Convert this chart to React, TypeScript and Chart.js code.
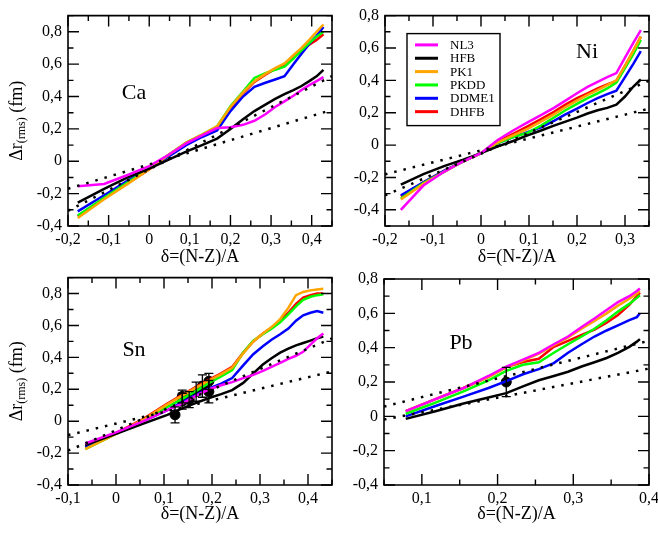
import React, { useEffect, useRef } from "react";
import { Chart, registerables } from "chart.js";

Chart.register(...registerables);

const FONT = '"Liberation Serif", "Times New Roman", Times, serif';

const seriesNames = ["NL3", "HFB", "PK1", "PKDD", "DDME1", "DHFB"];
const seriesColors = ["#ff00ff", "#000000", "#ffa500", "#00ff00", "#0000ff", "#ff0000"];
const xTitle = "δ=(N-Z)/A";

// ---------- Ca ----------
const caDelta = [-0.176, -0.111, -0.053, 0, 0.048, 0.091, 0.13, 0.167, 0.2, 0.231, 0.259, 0.286, 0.31, 0.333, 0.355, 0.375, 0.394, 0.412, 0.429];
const caNL3 = [-0.155, -0.14, -0.085, -0.03, 0.04, 0.11, 0.16, 0.205, 0.21, 0.225, 0.25, 0.29, 0.335, 0.37, 0.405, 0.44, 0.47, 0.495, 0.52];
const caHFB = [-0.255, -0.17, -0.1, -0.045, 0.01, 0.06, 0.1, 0.14, 0.2, 0.26, 0.31, 0.35, 0.385, 0.415, 0.44, 0.465, 0.495, 0.525, 0.565];
const caPK1 = [-0.35, -0.235, -0.14, -0.05, 0.04, 0.115, 0.165, 0.215, 0.335, 0.425, 0.495, 0.54, 0.575, 0.605, 0.655, 0.7, 0.75, 0.8, 0.845];
const caPKDD = [-0.335, -0.225, -0.13, -0.045, 0.04, 0.115, 0.165, 0.215, 0.34, 0.43, 0.515, 0.545, 0.565, 0.585, 0.635, 0.685, 0.73, 0.77, 0.8];
const caDDME1 = [-0.31, -0.21, -0.12, -0.045, 0.03, 0.1, 0.15, 0.19, 0.31, 0.4, 0.46, 0.485, 0.505, 0.525, 0.6, 0.665, 0.725, 0.775, 0.83];
const caDHFB = [-0.34, -0.23, -0.135, -0.05, 0.04, 0.11, 0.16, 0.205, 0.33, 0.42, 0.49, 0.535, 0.57, 0.6, 0.645, 0.685, 0.72, 0.75, 0.785];
const caBandX = [-0.2, 0.45];
const caBandSteep = [-0.306, 0.526];
const caBandFlat = [-0.17, 0.3175];
const caXTicks = [-0.2, -0.1, 0, 0.1, 0.2, 0.3, 0.4];
const caYTicks = [-0.4, -0.2, 0, 0.2, 0.4, 0.6, 0.8];

// ---------- Ni ----------
const niDelta = [-0.167, -0.12, -0.077, -0.037, 0, 0.034, 0.067, 0.097, 0.125, 0.152, 0.176, 0.2, 0.222, 0.243, 0.263, 0.282, 0.3, 0.317, 0.333];
const niNL3 = [-0.4, -0.25, -0.165, -0.1, -0.05, 0.03, 0.09, 0.14, 0.185, 0.23, 0.275, 0.32, 0.36, 0.39, 0.42, 0.445, 0.54, 0.63, 0.71];
const niHFB = [-0.245, -0.18, -0.13, -0.09, -0.05, -0.01, 0.025, 0.06, 0.09, 0.12, 0.145, 0.17, 0.195, 0.215, 0.23, 0.25, 0.3, 0.36, 0.405];
const niPK1 = [-0.336, -0.24, -0.165, -0.1, -0.05, 0.015, 0.06, 0.1, 0.145, 0.19, 0.235, 0.275, 0.31, 0.34, 0.37, 0.4, 0.49, 0.58, 0.67];
const niPKDD = [-0.33, -0.235, -0.165, -0.1, -0.05, 0.01, 0.05, 0.075, 0.12, 0.17, 0.215, 0.255, 0.29, 0.32, 0.35, 0.386, 0.475, 0.56, 0.65];
const niDDME1 = [-0.31, -0.23, -0.16, -0.1, -0.05, 0.01, 0.05, 0.08, 0.11, 0.15, 0.19, 0.225, 0.26, 0.29, 0.315, 0.336, 0.42, 0.5, 0.58];
const niDHFB = [-0.316, -0.23, -0.16, -0.1, -0.05, 0.02, 0.07, 0.115, 0.16, 0.205, 0.25, 0.29, 0.32, 0.35, 0.375, 0.396, 0.49, 0.58, 0.67];
const niBandX = [-0.2, 0.35];
const niBandSteep = [-0.311, 0.3985];
const niBandFlat = [-0.1804, 0.225];
const niXTicks = [-0.2, -0.1, 0, 0.1, 0.2, 0.3];
const niYTicks = [-0.4, -0.2, 0, 0.2, 0.4, 0.6, 0.8];

// ---------- Sn ----------
const snDelta = [-0.064, 0, 0.057, 0.107, 0.138, 0.167, 0.194, 0.219, 0.242, 0.265, 0.286, 0.306, 0.324, 0.342, 0.359, 0.375, 0.39, 0.405, 0.419, 0.432];
const snNL3 = [-0.14, -0.07, 0.0, 0.07, 0.11, 0.16, 0.2, 0.225, 0.245, 0.27, 0.29, 0.315, 0.34, 0.365, 0.39, 0.41, 0.435, 0.48, 0.52, 0.55];
const snHFB = [-0.15, -0.08, -0.015, 0.04, 0.08, 0.115, 0.145, 0.17, 0.195, 0.24, 0.3, 0.355, 0.395, 0.43, 0.455, 0.475, 0.49, 0.505, 0.52, 0.53];
const snPK1 = [-0.175, -0.08, 0.01, 0.105, 0.16, 0.21, 0.255, 0.295, 0.335, 0.425, 0.5, 0.55, 0.59, 0.64, 0.71, 0.79, 0.81, 0.82, 0.826, 0.83];
const snPKDD = [-0.175, -0.08, 0.005, 0.09, 0.14, 0.19, 0.24, 0.28, 0.32, 0.43, 0.505, 0.545, 0.58, 0.62, 0.67, 0.72, 0.76, 0.78, 0.79, 0.795];
const snDDME1 = [-0.16, -0.075, 0.0, 0.07, 0.12, 0.165, 0.205, 0.235, 0.27, 0.35, 0.42, 0.47, 0.51, 0.545, 0.58, 0.63, 0.664, 0.68, 0.69, 0.68];
const snDHFB = [-0.165, -0.075, 0.015, 0.11, 0.165, 0.215, 0.26, 0.3, 0.34, 0.43, 0.5, 0.55, 0.585, 0.63, 0.68, 0.735, 0.775, 0.79, 0.8, 0.8];
const snBandX = [-0.1, 0.45];
const snBandSteep = [-0.185, 0.519];
const snBandFlat = [-0.0876, 0.312];
const snExpDelta = [0.123, 0.138, 0.138, 0.1525, 0.167, 0.18, 0.1935, 0.1935];
const snExpValue = [0.04, 0.155, 0.125, 0.135, 0.185, 0.22, 0.25, 0.185];
const snExpError = [0.05, 0.04, 0.05, 0.05, 0.06, 0.07, 0.05, 0.07];
const snXTicks = [-0.1, 0, 0.1, 0.2, 0.3, 0.4];
const snYTicks = [-0.4, -0.2, 0, 0.2, 0.4, 0.6, 0.8];

// ---------- Pb ----------
const pbDelta = [0.0787, 0.118, 0.155, 0.188, 0.2115, 0.2336, 0.2545, 0.2743, 0.2931, 0.311, 0.328, 0.344, 0.359, 0.374, 0.384, 0.388];
const pbNL3 = [0.03, 0.1, 0.165, 0.235, 0.29, 0.33, 0.37, 0.42, 0.465, 0.52, 0.57, 0.62, 0.665, 0.7, 0.73, 0.745];
const pbHFB = [-0.015, 0.03, 0.075, 0.11, 0.135, 0.175, 0.21, 0.235, 0.26, 0.29, 0.315, 0.34, 0.37, 0.405, 0.435, 0.45];
const pbPK1 = [0.03, 0.1, 0.165, 0.23, 0.285, 0.325, 0.365, 0.415, 0.46, 0.51, 0.555, 0.6, 0.645, 0.685, 0.715, 0.73];
const pbPKDD = [0.015, 0.08, 0.145, 0.21, 0.265, 0.3, 0.315, 0.37, 0.42, 0.465, 0.51, 0.56, 0.61, 0.655, 0.69, 0.705];
const pbDDME1 = [0.0, 0.06, 0.115, 0.165, 0.205, 0.245, 0.275, 0.31, 0.37, 0.42, 0.465, 0.5, 0.53, 0.56, 0.578, 0.6];
const pbDHFB = [0.03, 0.1, 0.165, 0.23, 0.287, 0.316, 0.335, 0.405, 0.44, 0.475, 0.505, 0.545, 0.59, 0.65, 0.7, 0.72];
const pbBandX = [0.05, 0.4];
const pbBandUpper = [0.057, 0.44];
const pbBandLower = [-0.019, 0.278];
const pbExpDelta = [0.2115];
const pbExpValue = [0.2];
const pbExpError = [0.085];
const pbXTicks = [0.1, 0.2, 0.3, 0.4];
const pbYTicks = [-0.4, -0.2, 0, 0.2, 0.4, 0.6, 0.8];

type Panel = {
  name: string;
  delta: number[];
  series: number[][];
  bandX: number[];
  bands: number[][];
  exp?: { x: number[]; y: number[]; err: number[] };
  xMin: number; xMax: number; yMin: number; yMax: number;
  xTicks: number[]; yTicks: number[];
  box: { left: number; top: number; w: number; h: number };
  padTop: number; padRight: number; yWidth: number; xHeight: number; titlePad: number;
  labelDx: number; labelDy: number;
  yTitle: boolean; legend: boolean;
};

const panels: Panel[] = [
  {
    name: "Ca", delta: caDelta, series: [caNL3, caHFB, caPK1, caPKDD, caDDME1, caDHFB],
    bandX: caBandX, bands: [caBandSteep, caBandFlat],
    xMin: -0.2, xMax: 0.45, yMin: -0.4, yMax: 0.9, xTicks: caXTicks, yTicks: caYTicks,
    box: { left: 0, top: 0, w: 340, h: 270 }, padTop: 10, padRight: 8, yWidth: 68, xHeight: 44, titlePad: 2.2,
    labelDx: 66, labelDy: 78, yTitle: true, legend: false,
  },
  {
    name: "Ni", delta: niDelta, series: [niNL3, niHFB, niPK1, niPKDD, niDDME1, niDHFB],
    bandX: niBandX, bands: [niBandSteep, niBandFlat],
    xMin: -0.2, xMax: 0.35, yMin: -0.5, yMax: 0.8, xTicks: niXTicks, yTicks: niYTicks,
    box: { left: 336, top: 0, w: 330, h: 270 }, padTop: 10, padRight: 17, yWidth: 49, xHeight: 44, titlePad: 2.2,
    labelDx: 202, labelDy: 37, yTitle: false, legend: true,
  },
  {
    name: "Sn", delta: snDelta, series: [snNL3, snHFB, snPK1, snPKDD, snDDME1, snDHFB],
    bandX: snBandX, bands: [snBandSteep, snBandFlat],
    exp: { x: snExpDelta, y: snExpValue, err: snExpError },
    xMin: -0.1, xMax: 0.45, yMin: -0.4, yMax: 0.9, xTicks: snXTicks, yTicks: snYTicks,
    box: { left: 0, top: 262, w: 340, h: 271 }, padTop: 8, padRight: 8, yWidth: 68, xHeight: 48, titlePad: 8.2,
    labelDx: 66, labelDy: 73, yTitle: true, legend: false,
  },
  {
    name: "Pb", delta: pbDelta, series: [pbNL3, pbHFB, pbPK1, pbPKDD, pbDDME1, pbDHFB],
    bandX: pbBandX, bands: [pbBandUpper, pbBandLower],
    exp: { x: pbExpDelta, y: pbExpValue, err: pbExpError },
    xMin: 0.05, xMax: 0.4, yMin: -0.4, yMax: 0.8, xTicks: pbXTicks, yTicks: pbYTicks,
    box: { left: 336, top: 262, w: 330, h: 271 }, padTop: 17, padRight: 17, yWidth: 48, xHeight: 48, titlePad: 8.2,
    labelDx: 77, labelDy: 64, yTitle: false, legend: false,
  },
];

const fmt = (v: number) => (Math.abs(v) < 1e-9 ? "0" : v.toFixed(1).replace(".", ","));

function minorValues(major: number[], min: number, max: number): number[] {
  const step = (major[1] - major[0]) / 2;
  const out: number[] = [];
  const start = Math.ceil((min - 1e-9) / step);
  const end = Math.floor((max + 1e-9) / step);
  for (let k = start; k <= end; k++) {
    const v = k * step;
    if (!major.some((m) => Math.abs(m - v) < 1e-6)) out.push(v);
  }
  return out;
}

function makePlugin(p: Panel) {
  return {
    id: "frame" + p.name,
    afterDatasetsDraw(chart: any) {
      const { ctx, scales } = chart;
      const x = scales.x;
      const y = scales.y;
      // error bars
      chart.data.datasets.forEach((ds: any) => {
        if (!ds.errors) return;
        ctx.save();
        ctx.strokeStyle = "#000";
        ctx.lineWidth = 1.3;
        ds.data.forEach((pt: any, i: number) => {
          const e = ds.errors[i];
          const px = x.getPixelForValue(pt.x);
          const y1 = y.getPixelForValue(pt.y - e);
          const y2 = y.getPixelForValue(pt.y + e);
          ctx.beginPath();
          ctx.moveTo(px, y1); ctx.lineTo(px, y2);
          ctx.moveTo(px - 4.5, y1); ctx.lineTo(px + 4.5, y1);
          ctx.moveTo(px - 4.5, y2); ctx.lineTo(px + 4.5, y2);
          ctx.stroke();
        });
        ctx.restore();
      });
    },
    afterDraw(chart: any) {
      const { ctx, chartArea: a, scales } = chart;
      const x = scales.x;
      const y = scales.y;
      ctx.save();
      ctx.strokeStyle = "#000";
      ctx.lineWidth = 1.6;
      ctx.beginPath();
      ctx.rect(a.left, a.top, a.right - a.left, a.bottom - a.top);
      ctx.stroke();
      ctx.lineWidth = 1.4;
      ctx.beginPath();
      const xt = (vals: number[], len: number) => vals.forEach((v) => {
        const px = x.getPixelForValue(v);
        ctx.moveTo(px, a.bottom); ctx.lineTo(px, a.bottom - len);
        ctx.moveTo(px, a.top); ctx.lineTo(px, a.top + len);
      });
      const yt = (vals: number[], len: number) => vals.forEach((v) => {
        const py = y.getPixelForValue(v);
        ctx.moveTo(a.left, py); ctx.lineTo(a.left + len, py);
        ctx.moveTo(a.right, py); ctx.lineTo(a.right - len, py);
      });
      xt(p.xTicks, 11);
      xt(minorValues(p.xTicks, p.xMin, p.xMax), 5.5);
      yt(p.yTicks, 11);
      yt(minorValues(p.yTicks, p.yMin, p.yMax), 5.5);
      ctx.stroke();

      // panel label
      ctx.fillStyle = "#000";
      ctx.font = `22px ${FONT}`;
      ctx.textAlign = "center";
      ctx.textBaseline = "middle";
      ctx.fillText(p.name, a.left + p.labelDx, a.top + p.labelDy);

      // y title with subscript
      if (p.yTitle) {
        const cx = 15.5;
        const cy = (a.top + a.bottom) / 2;
        ctx.save();
        ctx.translate(cx, cy);
        ctx.rotate(-Math.PI / 2);
        ctx.textAlign = "left";
        ctx.textBaseline = "alphabetic";
        const big = `18px ${FONT}`;
        const small = `12px ${FONT}`;
        const t1 = "Δr";
        const t2 = "(rms)";
        const t3 = " (fm)";
        ctx.font = big;
        const w1 = ctx.measureText(t1).width;
        const w3 = ctx.measureText(t3).width;
        ctx.font = small;
        const w2 = ctx.measureText(t2).width;
        let sx = -(w1 + w2 + w3) / 2;
        ctx.font = big;
        ctx.fillText(t1, sx, 6);
        sx += w1;
        ctx.font = small;
        ctx.fillText(t2, sx, 9.5);
        sx += w2;
        ctx.font = big;
        ctx.fillText(t3, sx, 6);
        ctx.restore();
      }

      // legend
      if (p.legend) {
        const lx = a.left + 22;
        const ly = a.top + 18;
        ctx.lineWidth = 1.4;
        ctx.strokeStyle = "#000";
        ctx.strokeRect(lx, ly, 93, 92);
        ctx.font = `13px ${FONT}`;
        ctx.textAlign = "left";
        ctx.textBaseline = "middle";
        seriesNames.forEach((nm, i) => {
          const ry = a.top + 29.3 + i * 13.35;
          ctx.strokeStyle = seriesColors[i];
          ctx.lineWidth = 3;
          ctx.beginPath();
          ctx.moveTo(a.left + 30, ry);
          ctx.lineTo(a.left + 53, ry);
          ctx.stroke();
          ctx.fillStyle = "#000";
          ctx.fillText(nm, a.left + 65, ry + 0.5);
        });
      }
      ctx.restore();
    },
  };
}

function buildChart(canvas: HTMLCanvasElement, p: Panel) {
  const datasets: any[] = [];
  p.bands.forEach((vals) => {
    datasets.push({
      label: "fit",
      data: p.bandX.map((xv, i) => ({ x: xv, y: vals[i] })),
      borderColor: "#000",
      borderWidth: 2.5,
      borderDash: [2.5, 7],
      borderCapStyle: "butt",
      pointRadius: 0,
      fill: false,
      tension: 0,
    });
  });
  p.series.forEach((vals, k) => {
    datasets.push({
      label: seriesNames[k],
      data: p.delta.map((xv, i) => ({ x: xv, y: vals[i] })),
      borderColor: seriesColors[k],
      borderWidth: 2.5,
      pointRadius: 0,
      fill: false,
      tension: 0,
    });
  });
  if (p.exp) {
    const e = p.exp;
    datasets.push({
      label: "exp",
      data: e.x.map((xv, i) => ({ x: xv, y: e.y[i] })),
      showLine: false,
      pointRadius: 5,
      pointBackgroundColor: "#000",
      pointBorderColor: "#000",
      borderColor: "#000",
      errors: e.err,
    });
  }
  const tickFont = { family: FONT, size: 16 };
  return new Chart(canvas, {
    type: "line",
    data: { datasets },
    plugins: [makePlugin(p)],
    options: {
      responsive: false,
      animation: false,
      devicePixelRatio: 1,
      events: [],
      layout: { padding: { top: p.padTop, right: p.padRight, left: 0, bottom: 0 } },
      plugins: { legend: { display: false }, tooltip: { enabled: false } },
      scales: {
        x: {
          type: "linear",
          min: p.xMin,
          max: p.xMax,
          afterBuildTicks: (s: any) => { s.ticks = p.xTicks.map((v) => ({ value: v })); },
          afterFit: (s: any) => { s.height = p.xHeight; },
          grid: { display: false, drawTicks: false },
          border: { display: false },
          ticks: { font: tickFont, color: "#000", padding: 4.5, maxRotation: 0, autoSkip: false, callback: (v: any) => fmt(Number(v)) },
          title: { display: true, text: xTitle, font: { family: FONT, size: 18 }, color: "#000", padding: { top: 0, bottom: p.titlePad } },
        },
        y: {
          type: "linear",
          min: p.yMin,
          max: p.yMax,
          afterBuildTicks: (s: any) => { s.ticks = p.yTicks.map((v) => ({ value: v })); },
          afterFit: (s: any) => { s.width = p.yWidth; },
          grid: { display: false, drawTicks: false },
          border: { display: false },
          ticks: { font: tickFont, color: "#000", padding: 6, autoSkip: false, callback: (v: any) => fmt(Number(v)) },
        },
      },
    } as any,
  });
}

export default function App() {
  const refs = useRef<(HTMLCanvasElement | null)[]>([]);
  useEffect(() => {
    const charts = panels.map((p, i) => buildChart(refs.current[i] as HTMLCanvasElement, p));
    return () => charts.forEach((c) => c.destroy());
  }, []);
  return (
    <div style={{ position: "absolute", left: 0, top: 0, width: 658, height: 533, background: "#fff", overflow: "hidden" }}>
      {panels.map((p, i) => (
        <canvas
          key={p.name}
          ref={(el) => { refs.current[i] = el; }}
          width={p.box.w}
          height={p.box.h}
          style={{ position: "absolute", left: p.box.left, top: p.box.top, width: p.box.w, height: p.box.h }}
        />
      ))}
    </div>
  );
}
